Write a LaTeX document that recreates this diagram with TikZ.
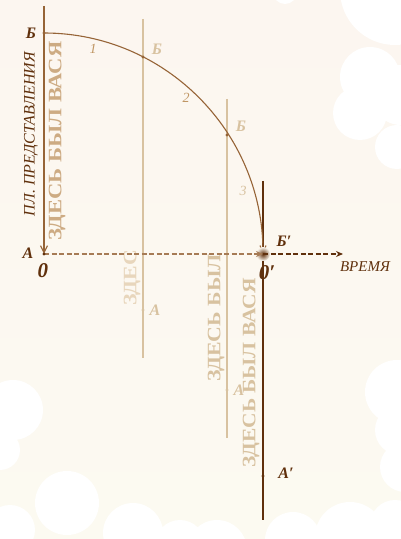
\documentclass[tikz,border=0pt]{standalone}
\usepackage{fontspec}
\setmainfont{Liberation Serif}
\usetikzlibrary{arrows.meta}

\definecolor{paper}{RGB}{252,248,240}
\definecolor{papertop}{RGB}{252,246,240}
\definecolor{paperbot}{RGB}{252,250,241}
\definecolor{ink}{RGB}{96,48,12}
\definecolor{midbrown}{RGB}{150,100,55}
\definecolor{palebrown}{RGB}{216,194,160}
\definecolor{faintbrown}{RGB}{232,214,188}
\definecolor{goldbrown}{RGB}{192,150,100}

\newcommand{\wide}[2][1.15]{\scalebox{#1}[1]{#2}}

\begin{document}
\begin{tikzpicture}[x=1pt, y=1pt,
    frame line/.style={draw=palebrown, line width=1.3pt},
    main line/.style={draw=ink, line width=1.6pt},
    axis style/.style={line width=1.6pt, dash pattern=on 5pt off 2.5pt},
    point/.style={circle, fill=#1, inner sep=0pt, minimum size=3.4pt},
    letter/.style={font=\bfseries\itshape\fontsize{16}{16}\selectfont, text=#1, inner sep=1pt},
    zero/.style={font=\bfseries\itshape\fontsize{21}{21}\selectfont, text=ink, inner sep=0pt},
    stamp/.style={font=\bfseries\fontsize{19}{19}\selectfont, text=#1, rotate=90, inner sep=0pt},
    num/.style={font=\itshape\fontsize{14}{14}\selectfont, text=#1, inner sep=0pt},]
    \useasboundingbox (0,0) rectangle (401,539);
    \shade[top color=papertop, bottom color=paperbot] (0,0) rectangle (401,539);

    % clouds at the edges
    \fill[white] (395,549) circle (55) (285,547) circle (12);
    \fill[white] (370,462) circle (30) (360,426) circle (27) (397,392) circle (22) (401,444) circle (30);
    \fill[white] (397,147) circle (32) (400,109) circle (25) (405,72) circle (25);
    \fill[white] (293,-1) circle (28) (350,2) circle (35) (395,14) circle (25);
    \fill[white] (13,129) circle (30) (0,89) circle (20);
    \fill[white] (67,36) circle (32) (10,9) circle (25) (133,6) circle (30)
        (180,-6) circle (25) (217,-11) circle (30);

    \coordinate (top0) at (44,533);
    \coordinate (O) at (44,285);
    \coordinate (B0) at (44,506);
    \coordinate (top1) at (143,520);
    \coordinate (bot1) at (143,181);
    \coordinate (B1) at (143,482);
    \coordinate (A1) at (143,229);
    \coordinate (top2) at (227,440);
    \coordinate (bot2) at (227,101);
    \coordinate (B2) at (227,404);
    \coordinate (A2) at (227,149);
    \coordinate (top3) at (263,358);
    \coordinate (bot3) at (263,19);
    \coordinate (O') at (263,285);
    \coordinate (A3) at (263,63);
    \coordinate (tend) at (343,285);

    \node[stamp=goldbrown!80] (t0) at (57,398) {\wide[1.19]{ЗДЕСЬ БЫЛ ВАСЯ}};
    \node[stamp=faintbrown] (t1) at (132,261) {\wide{ЗДЕС}};
    \node[stamp=palebrown] (t2) at (216,221) {\wide{ЗДЕСЬ БЫЛ}};
    \node[stamp=palebrown] (t3) at (251,166) {\wide[1.13]{ЗДЕСЬ БЫЛ ВАСЯ}};
    \node[font=\itshape\fontsize{16}{16}\selectfont, text=ink, rotate=90, inner sep=0pt] (plane) at (31,405) {ПЛ. ПРЕДСТАВЛЕНИЯ};

    \draw[frame line] (top1) -- (bot1);
    \draw[frame line] (top2) -- (bot2);
    \draw[main line] (top3) -- (bot3);
    \draw[draw=midbrown, line width=1.2pt, -{Straight Barb[length=7pt, width=7pt]}] (top0) -- (O);

    \draw[draw=midbrown, line width=1.1pt, -{Straight Barb[length=7pt, width=6pt]}] (B0) arc[start angle=90, end angle=0, x radius=219, y radius=221];

    \shade[inner color=ink, outer color=paper] (O') circle (7);
    \draw[axis style, draw=midbrown!85, -{Stealth[length=7pt, width=6pt]}] (O) -- (O');
    \draw[axis style, draw=ink, -{Stealth[length=7pt, width=6pt]}] (O') -- (tend);

    \node[point=midbrown] at (B0) {};
    \node[point=ink] at (O) {};
    \node[point=midbrown] at (B1) {};
    \node[point=palebrown] at (A1) {};
    \node[point=midbrown] at (B2) {};
    \node[point=palebrown] at (A2) {};
    \node[point=ink] at (A3) {};

    \node[letter=ink] (lB0) at (31,506) {Б};
    \node[letter=ink] (lA0) at (28,286) {А};
    \node[zero] (l0) at (43,268) {0};
    \node[zero] (l0p) at (267,266) {0′};
    \node[letter=ink] (lBp) at (284,298) {Б′};
    \node[letter=ink] (lAp) at (286,66) {А′};
    \node[letter=palebrown] (lB1) at (157,490) {Б};
    \node[letter=palebrown] (lB2) at (241,413) {Б};
    \node[letter=palebrown] (lA1) at (155,229) {А};
    \node[letter=palebrown] (lA2) at (239,149) {А};
    \node[num=goldbrown] (n1) at (93,490) {1};
    \node[num=goldbrown] (n2) at (186,441) {2};
    \node[num=palebrown] (n3) at (243,348) {3};
    \node[font=\itshape\fontsize{15}{15}\selectfont, text=ink, inner sep=0pt] (time) at (365,272) {ВРЕМЯ};

\end{tikzpicture}
\end{document}
